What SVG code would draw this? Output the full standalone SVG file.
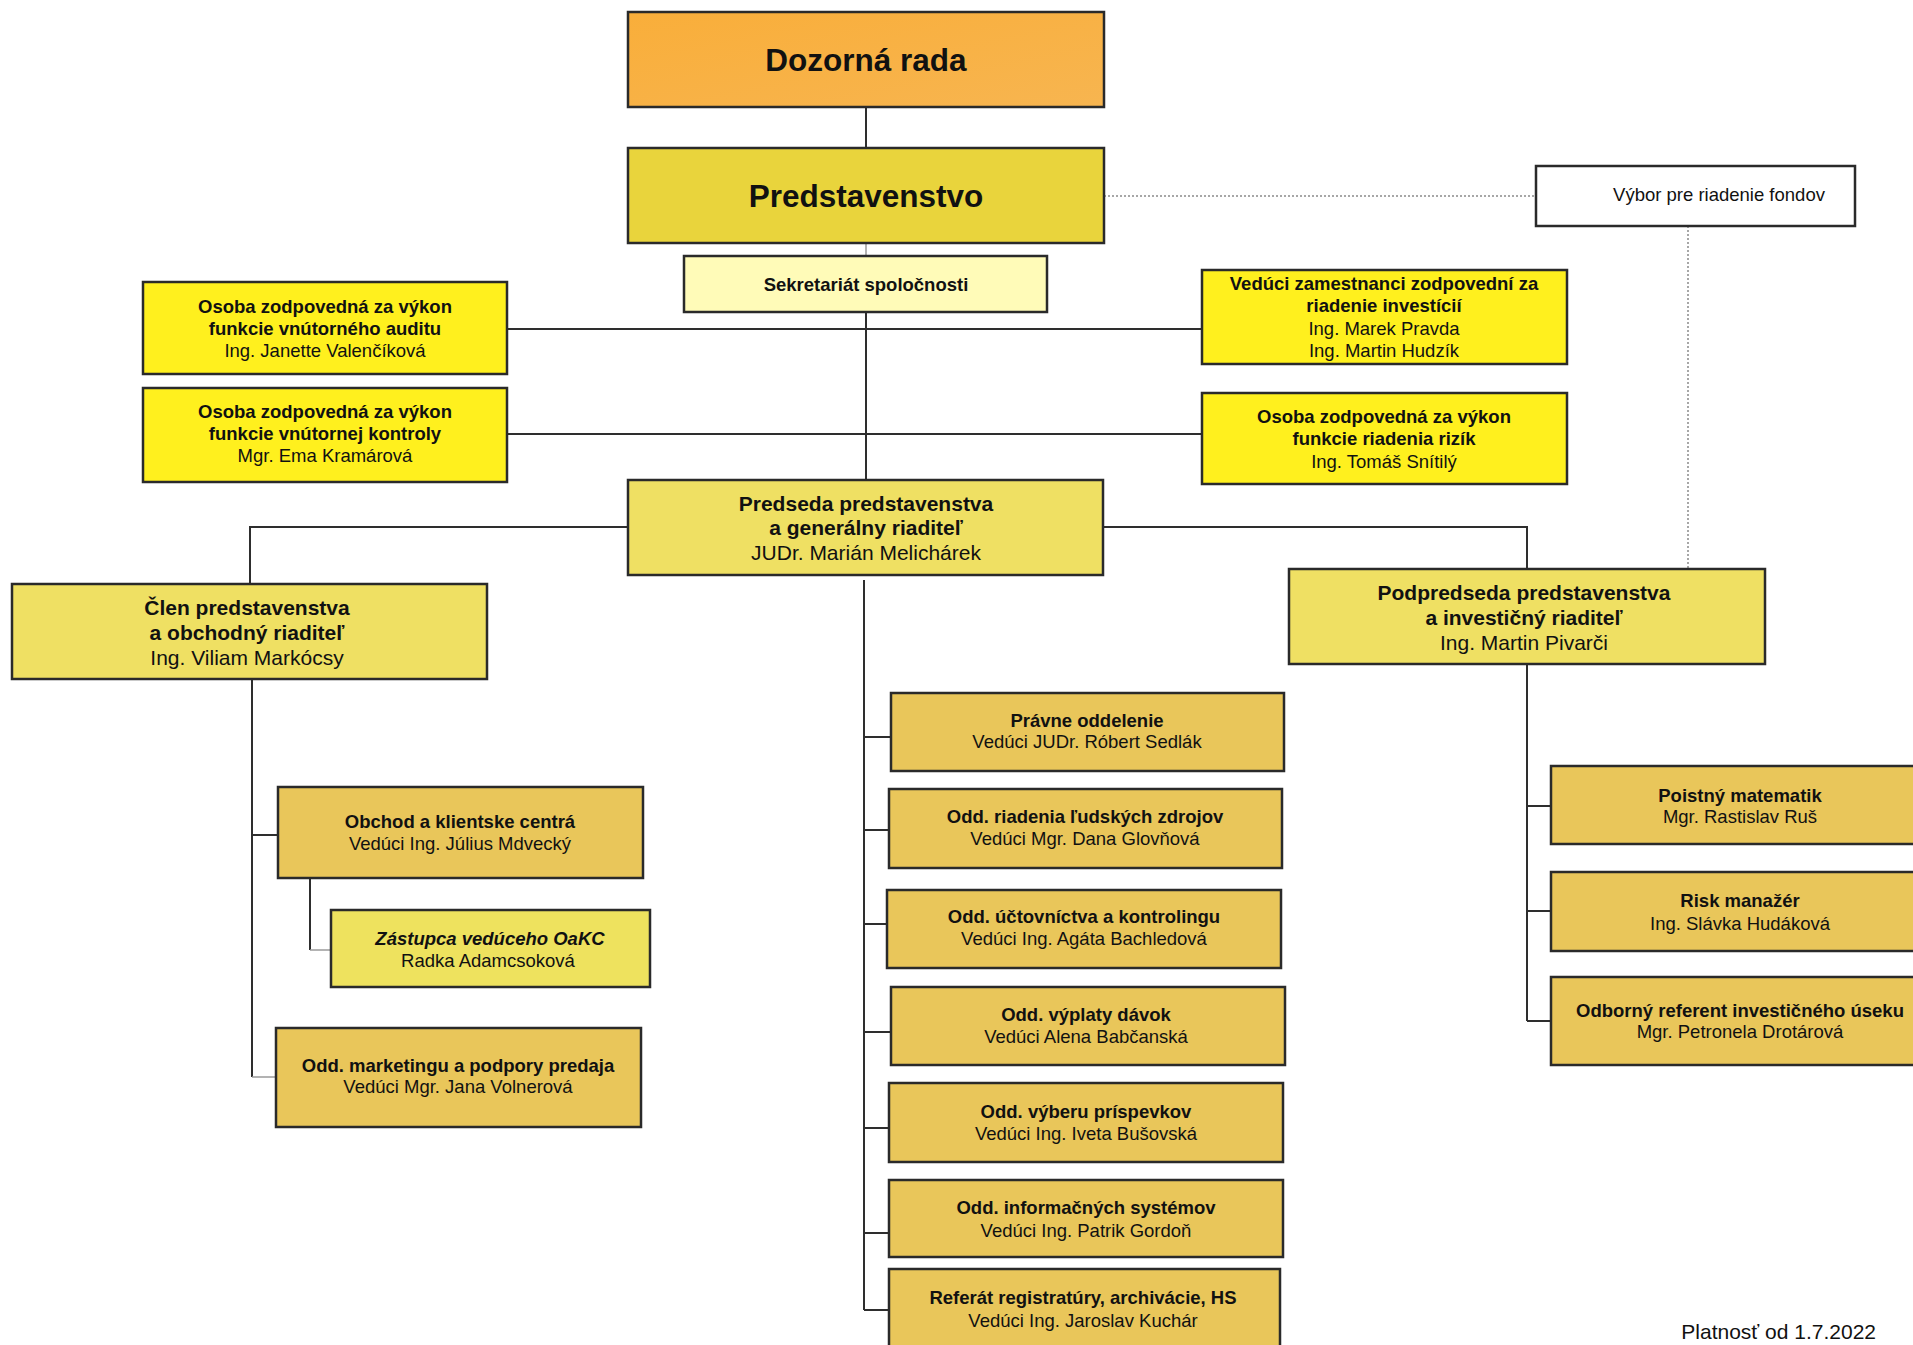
<svg xmlns="http://www.w3.org/2000/svg" width="1913" height="1345" viewBox="0 0 1913 1345">
<defs>
<linearGradient id="gOrange" x1="0" y1="0" x2="1" y2="1">
<stop offset="0" stop-color="#F9AE3A"/><stop offset="1" stop-color="#F7B550"/>
</linearGradient>
<style>
rect.box{stroke:#2a2a2a;stroke-width:2.5}
.orange{fill:url(#gOrange)}
.board{fill:#E9D43C}
.light{fill:#FFFBB8}
.white{fill:#FFFFFF}
.bright{fill:#FFF01E}
.exec{fill:#EFE063}
.dept{fill:#E9C65A}
.deputy{fill:#EEE25E}
text{font-family:"Liberation Sans",Arial,sans-serif;fill:#111;text-anchor:middle}
.b{font-weight:bold}
.s{font-size:18.5px}
.m{font-size:21px}
.big{font-size:31.5px;font-weight:bold}
.bi{font-weight:bold;font-style:italic}
.line{fill:none;stroke:#2e2e2e;stroke-width:2}
.faint{fill:none;stroke:#9a9a9a;stroke-width:1.5}
.dot{fill:none;stroke:#8a8a8a;stroke-width:1.5;stroke-dasharray:2 2}
</style>
</defs>
<rect width="1913" height="1345" fill="#FFFFFF"/>

<g id="connectors">
<path class="line" d="M866,107 V148"/>
<path class="faint" d="M866,243 V256"/>
<path class="line" d="M866,312 V480"/>
<path class="line" d="M507,329 H1202"/>
<path class="line" d="M507,434 H1202"/>
<path class="line" d="M628,527 H250 V584"/>
<path class="line" d="M1103,527 H1527 V569"/>
<path class="line" d="M252,679 V1077"/>
<path class="line" d="M252,835 H278"/>
<path class="faint" d="M252,1077 H276"/>
<path class="line" d="M310,878 V950"/>
<path class="faint" d="M310,950 H331"/>
<path class="line" d="M864,580 V1310"/>
<path class="line" d="M864,737 H891 M864,830 H889 M864,924 H887 M864,1032 H891 M864,1128 H889 M864,1233 H889 M864,1310 H889"/>
<path class="line" d="M1527,664 V1021 M1527,806 H1551 M1527,911 H1551 M1527,1021 H1551"/>
<path class="dot" d="M1104,196 H1536"/>
<path class="dot" d="M1688,226 V570"/>
</g>

<g id="dozorna-rada">
<rect class="box orange" x="628" y="12" width="476" height="95"/>
<text class="big" x="866" y="71">Dozorná rada</text>
</g>

<g id="predstavenstvo">
<rect class="box board" x="628" y="148" width="476" height="95"/>
<text class="big" x="866" y="207">Predstavenstvo</text>
</g>

<g id="sekretariat">
<rect class="box light" x="684" y="256" width="363" height="56"/>
<text class="b s" x="866" y="291">Sekretariát spoločnosti</text>
</g>

<g id="vybor">
<rect class="box white" x="1536" y="166" width="319" height="60"/>
<text class="s" x="1719" y="201">Výbor pre riadenie fondov</text>
</g>

<g id="audit">
<rect class="box bright" x="143" y="282" width="364" height="92"/>
<text class="b s" x="325" y="313">Osoba zodpovedná za výkon</text>
<text class="b s" x="325" y="335">funkcie vnútorného auditu</text>
<text class="s" x="325" y="357">Ing. Janette Valenčíková</text>
</g>

<g id="kontrola">
<rect class="box bright" x="143" y="388" width="364" height="94"/>
<text class="b s" x="325" y="418">Osoba zodpovedná za výkon</text>
<text class="b s" x="325" y="440">funkcie vnútornej kontroly</text>
<text class="s" x="325" y="462">Mgr. Ema Kramárová</text>
</g>

<g id="veduci-investicie">
<rect class="box bright" x="1202" y="270" width="365" height="94"/>
<text class="b s" x="1384" y="290">Vedúci zamestnanci zodpovední za</text>
<text class="b s" x="1384" y="312">riadenie investícií</text>
<text class="s" x="1384" y="335">Ing. Marek Pravda</text>
<text class="s" x="1384" y="357">Ing. Martin Hudzík</text>
</g>

<g id="rizika">
<rect class="box bright" x="1202" y="393" width="365" height="91"/>
<text class="b s" x="1384" y="423">Osoba zodpovedná za výkon</text>
<text class="b s" x="1384" y="445">funkcie riadenia rizík</text>
<text class="s" x="1384" y="468">Ing. Tomáš Snítilý</text>
</g>

<g id="predseda">
<rect class="box exec" x="628" y="480" width="475" height="95"/>
<text class="b m" x="866" y="511">Predseda predstavenstva</text>
<text class="b m" x="866" y="535">a generálny riaditeľ</text>
<text class="m" x="866" y="560">JUDr. Marián Melichárek</text>
</g>

<g id="clen">
<rect class="box exec" x="12" y="584" width="475" height="95"/>
<text class="b m" x="247" y="615">Člen predstavenstva</text>
<text class="b m" x="247" y="640">a obchodný riaditeľ</text>
<text class="m" x="247" y="665">Ing. Viliam Markócsy</text>
</g>

<g id="podpredseda">
<rect class="box exec" x="1289" y="569" width="476" height="95"/>
<text class="b m" x="1524" y="600">Podpredseda predstavenstva</text>
<text class="b m" x="1524" y="625">a investičný riaditeľ</text>
<text class="m" x="1524" y="650">Ing. Martin Pivarči</text>
</g>

<g id="obchod">
<rect class="box dept" x="278" y="787" width="365" height="91"/>
<text class="b s" x="460" y="828">Obchod a klientske centrá</text>
<text class="s" x="460" y="850">Vedúci Ing. Július Mdvecký</text>
</g>

<g id="zastupca">
<rect class="box deputy" x="331" y="910" width="319" height="77"/>
<text class="bi s" x="490" y="945">Zástupca vedúceho OaKC</text>
<text class="s" x="488" y="967">Radka Adamcsoková</text>
</g>

<g id="marketing">
<rect class="box dept" x="276" y="1028" width="365" height="99"/>
<text class="b s" x="458" y="1072">Odd. marketingu a podpory predaja</text>
<text class="s" x="458" y="1093">Vedúci Mgr. Jana Volnerová</text>
</g>

<g id="pravne">
<rect class="box dept" x="891" y="693" width="393" height="78"/>
<text class="b s" x="1087" y="727">Právne oddelenie</text>
<text class="s" x="1087" y="748">Vedúci JUDr. Róbert Sedlák</text>
</g>

<g id="ludske-zdroje">
<rect class="box dept" x="889" y="789" width="393" height="79"/>
<text class="b s" x="1085" y="823">Odd. riadenia ľudských zdrojov</text>
<text class="s" x="1085" y="845">Vedúci Mgr. Dana Glovňová</text>
</g>

<g id="uctovnictvo">
<rect class="box dept" x="887" y="890" width="394" height="78"/>
<text class="b s" x="1084" y="923">Odd. účtovníctva a kontrolingu</text>
<text class="s" x="1084" y="945">Vedúci Ing. Agáta Bachledová</text>
</g>

<g id="vyplaty">
<rect class="box dept" x="891" y="987" width="394" height="78"/>
<text class="b s" x="1086" y="1021">Odd. výplaty dávok</text>
<text class="s" x="1086" y="1043">Vedúci Alena Babčanská</text>
</g>

<g id="vyber">
<rect class="box dept" x="889" y="1083" width="394" height="79"/>
<text class="b s" x="1086" y="1118">Odd. výberu príspevkov</text>
<text class="s" x="1086" y="1140">Vedúci Ing. Iveta Bušovská</text>
</g>

<g id="informacne">
<rect class="box dept" x="889" y="1180" width="394" height="77"/>
<text class="b s" x="1086" y="1214">Odd. informačných systémov</text>
<text class="s" x="1086" y="1237">Vedúci Ing. Patrik Gordoň</text>
</g>

<g id="referat">
<rect class="box dept" x="889" y="1269" width="391" height="95"/>
<text class="b s" x="1083" y="1304">Referát registratúry, archivácie, HS</text>
<text class="s" x="1083" y="1327">Vedúci Ing. Jaroslav Kuchár</text>
</g>

<g id="poistny">
<rect class="box dept" x="1551" y="766" width="380" height="78"/>
<text class="b s" x="1740" y="802">Poistný matematik</text>
<text class="s" x="1740" y="823">Mgr. Rastislav Ruš</text>
</g>

<g id="risk">
<rect class="box dept" x="1551" y="872" width="380" height="79"/>
<text class="b s" x="1740" y="907">Risk manažér</text>
<text class="s" x="1740" y="930">Ing. Slávka Hudáková</text>
</g>

<g id="odborny">
<rect class="box dept" x="1551" y="977" width="380" height="88"/>
<text class="b s" x="1740" y="1017">Odborný referent investičného úseku</text>
<text class="s" x="1740" y="1038">Mgr. Petronela Drotárová</text>
</g>

<g id="platnost">
<text x="1876" y="1339" style="font-size:21px;text-anchor:end">Platnosť od 1.7.2022</text>
</g>
</svg>
